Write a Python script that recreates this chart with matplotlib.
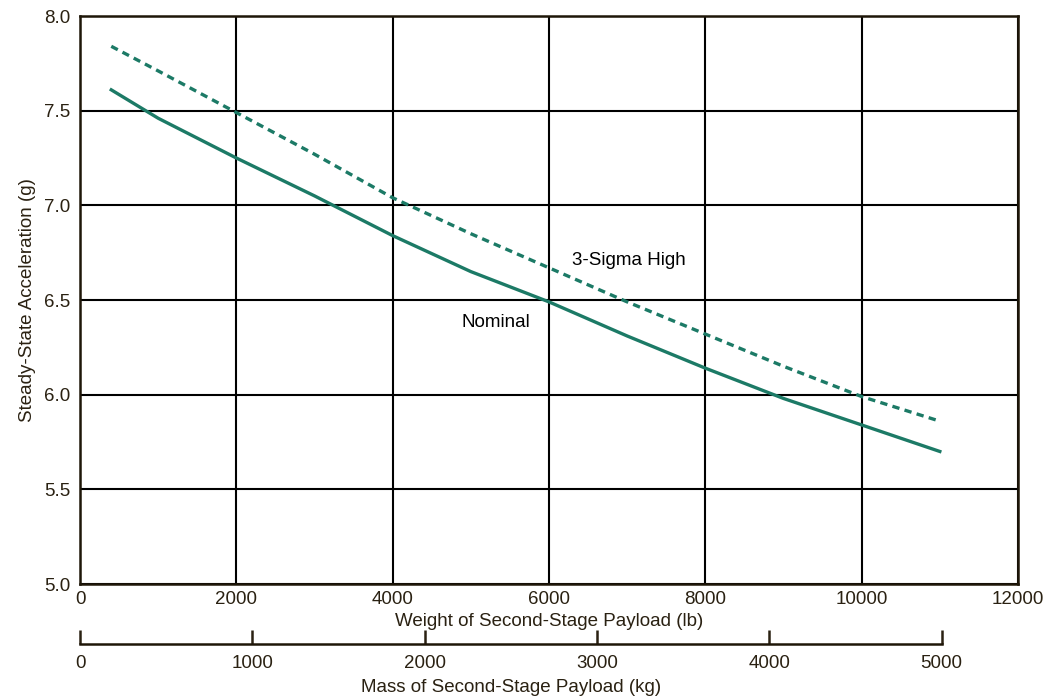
import matplotlib.pyplot as plt

plt.rcParams['font.family'] = ['Liberation Sans', 'DejaVu Sans']

# payload weight (lb) and steady-state acceleration (g)
weight_lb = [400, 1000, 2000, 3000, 4000, 5000, 6000, 7000, 8000, 9000, 10000, 11000]
nominal = [7.61, 7.46, 7.25, 7.05, 6.84, 6.65, 6.49, 6.31, 6.14, 5.98, 5.84, 5.70]
sigma_high = [7.84, 7.71, 7.49, 7.27, 7.04, 6.85, 6.67, 6.49, 6.32, 6.15, 5.99, 5.86]

lb_ticks = [0, 2000, 4000, 6000, 8000, 10000, 12000]
kg_ticks = [0, 1000, 2000, 3000, 4000, 5000]
acc_ticks = [5.0, 5.5, 6.0, 6.5, 7.0, 7.5, 8.0]

line_color = '#1c7a66'
text_color = '#2a2112'
lb_per_kg = 2.20462
fs = 13.5

fig = plt.figure(figsize=(10.48, 7.0), dpi=100)
left, right = 80 / 1048, 1018 / 1048
bottom, top = 1 - 584 / 700, 1 - 16 / 700
ax = fig.add_axes([left, bottom, right - left, top - bottom])

ax.plot(weight_lb, nominal, color=line_color, lw=2.4)
ax.plot(weight_lb, sigma_high, color=line_color, lw=2.4, ls=(0, (2.2, 1.6)))

ax.set_xlim(0, 12000)
ax.set_ylim(5.0, 8.0)
ax.set_xticks(lb_ticks)
ax.set_yticks(acc_ticks)
ax.set_yticklabels([f'{v:.1f}' for v in acc_ticks])
ax.grid(True, color='black', lw=1.5)
ax.set_axisbelow(True)
for s in ax.spines.values():
    s.set_linewidth(1.8)
    s.set_color('#1e1608')
ax.tick_params(length=0, labelsize=fs, colors=text_color, pad=5)
ax.tick_params(axis='y', pad=7)
ax.set_xlabel('Weight of Second-Stage Payload (lb)', fontsize=fs, color=text_color, labelpad=4)
ax.set_ylabel('Steady-State Acceleration (g)', fontsize=fs, color=text_color, labelpad=6)

ax.text(6300, 6.71, '3-Sigma High', fontsize=fs, va='center', ha='left')
ax.text(4880, 6.38, 'Nominal', fontsize=fs, va='center', ha='left')

# secondary mass axis (kg), spans 0 to 5000 kg only
kg_width = (right - left) * (5000 * lb_per_kg / 12000)
ax2 = fig.add_axes([left, 1 - 644 / 700, kg_width, 0.0001])
ax2.set_xlim(0, 5000)
ax2.set_xticks(kg_ticks)
ax2.set_yticks([])
for name in ['top', 'left', 'right']:
    ax2.spines[name].set_visible(False)
ax2.spines['bottom'].set_linewidth(1.8)
ax2.spines['bottom'].set_color('#1e1608')
ax2.tick_params(axis='x', direction='in', length=10, width=1.8, labelsize=fs,
                colors=text_color, pad=8)
ax2.set_xlabel('Mass of Second-Stage Payload (kg)', fontsize=fs, color=text_color, labelpad=5)
ax2.patch.set_visible(False)

fig.savefig('out.png', dpi=100)
